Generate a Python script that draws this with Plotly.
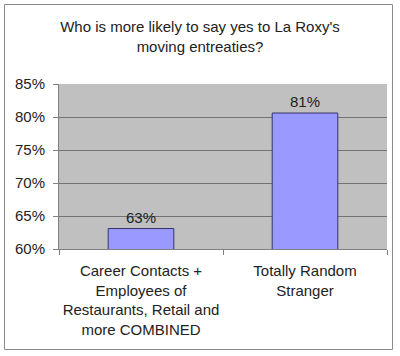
import plotly.graph_objects as go

categories = ["Career Contacts +<br>Employees of<br>Restaurants, Retail and<br>more COMBINED",
              "Totally Random<br>Stranger"]
values = [0.631, 0.806]
tick_vals = [0.60, 0.65, 0.70, 0.75, 0.80, 0.85]
title_text = "Who is more likely to say yes to La Roxy's<br>moving entreaties?"

W, H = 400, 356
L, R, T, B = 59, 13, 84, 107
pw, ph = W - L - R, H - T - B

def px_x(x):
    return (x - L) / pw

def px_y(y):
    return (H - B - y) / ph

FONT = "Liberation Sans, Arial, sans-serif"
FS = 15
TXT = "#222222"

fig = go.Figure(go.Bar(
    x=categories, y=values,
    width=0.4,
    marker=dict(color="#9999FF", line=dict(color="#333366", width=1)),
    texttemplate="%{y:.0%}", textposition="outside",
    textfont=dict(family=FONT, size=FS, color=TXT),
    cliponaxis=False,
))

fig.update_layout(
    width=W, height=H,
    margin=dict(l=L, r=R, t=T, b=B, autoexpand=False),
    paper_bgcolor="white", plot_bgcolor="#C0C0C0",
    font=dict(family=FONT, size=FS, color=TXT),
    title=dict(text=title_text, x=0.5, xanchor="center", y=1 - 32 / H, yanchor="middle",
               font=dict(family=FONT, size=FS, color=TXT), automargin=False),
    showlegend=False,
    xaxis=dict(showgrid=False, showline=True, linecolor="#808080", linewidth=1,
               ticks="outside", tickson="boundaries", ticklen=5, tickcolor="#808080",
               ticklabelstandoff=8, tickangle=0, automargin=False,
               tickfont=dict(family=FONT, size=FS, color=TXT)),
    yaxis=dict(range=[0.60, 0.85], tickvals=tick_vals, tickformat=".0%",
               showgrid=True, gridcolor="#737373", gridwidth=1,
               showline=True, linecolor="#808080", linewidth=1,
               ticks="outside", ticklen=5, tickcolor="#808080",
               ticklabelstandoff=5, automargin=False,
               tickfont=dict(family=FONT, size=FS, color=TXT), zeroline=False),
    shapes=[dict(type="rect", xref="paper", yref="paper",
                 x0=px_x(4.5), x1=px_x(392.5), y0=px_y(349.5), y1=px_y(4.5),
                 line=dict(color="#8a8a8a", width=1), fillcolor="rgba(0,0,0,0)", layer="below")],
)

fig.write_html("out.html")
